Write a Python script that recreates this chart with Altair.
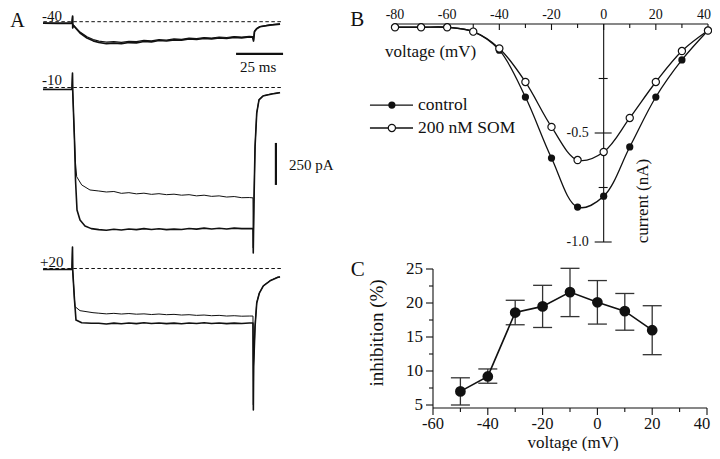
import altair as alt
import pandas as pd

SERIF = "Liberation Serif"
INK = "#111111"

# ---------------- Panel A: current traces (time in ms, current in pA) ----------------
plateau_t = [14, 18, 22, 26, 30, 34, 38, 42, 46, 50, 54, 58, 62, 66, 70, 74, 78, 82, 86, 90, 94]

m40_ctrl_head_t = [-15.7, -8.0, -0.3, 0.05, 0.12, 0.3, 2.0, 4.0, 7.7, 11.0]
m40_ctrl_head_i = [-9, -10, -9, 34, -37, -20, -42, -67, -97, -114]
m40_ctrl_plat_i = [-124, -130, -127, -131, -124, -126, -118, -120, -112, -115, -108,
                   -110, -103, -106, -99, -102, -96, -99, -93, -96, -91]
m40_ctrl_tail_t = [95.8, 96.3, 96.8, 98.0, 99.7, 105.0, 110.4]
m40_ctrl_tail_i = [-92, -115, -60, -42, -30, -20, -14]

m40_som_head_t = [-15.7, -8.0, -0.3, 0.05, 0.12, 0.3, 2.0, 4.0, 7.7, 11.0]
m40_som_head_i = [-8, -9, -8, 30, -34, -18, -38, -62, -90, -106]
m40_som_plat_i = [-116, -121, -119, -123, -117, -119, -111, -114, -107, -110, -102,
                  -105, -98, -101, -94, -97, -91, -94, -88, -92, -87]
m40_som_tail_t = [95.8, 96.3, 96.8, 98.0, 99.7, 105.0, 110.4]
m40_som_tail_i = [-88, -108, -56, -40, -29, -19, -13]

m10_ctrl_head_t = [-15.7, -8.0, -0.3, 0.0, 0.1, 1.06, 1.6, 2.4, 4.0, 6.65, 10.0]
m10_ctrl_head_i = [-11, -12, -11, 86, -15, -312, -551, -729, -789, -824, -840]
m10_ctrl_plat_i = [-846, -850, -844, -848, -842, -846, -840, -845, -841, -846, -843,
                   -845, -839, -843, -837, -842, -838, -842, -837, -840, -839]
m10_ctrl_tail_t = [96.0, 96.15, 96.5, 97.1, 98.0, 99.2, 101.3, 106.1, 110.4]
m10_ctrl_tail_i = [-840, -985, -700, -354, -152, -74, -51, -39, -31]

m10_som_head_t = [-15.7, -8.0, -0.3, 0.0, 0.1, 1.06, 1.6, 2.23, 4.9, 9.3]
m10_som_head_i = [-11, -12, -11, 86, -15, -312, -449, -531, -580, -610]
m10_som_plat_i = [-616, -622, -619, -630, -626, -633, -629, -636, -632, -638, -635,
                  -641, -638, -645, -641, -648, -645, -652, -649, -656, -655]
m10_som_tail_t = [96.0, 96.15, 96.5, 97.1, 98.0, 99.2, 101.3, 106.1, 110.4]
m10_som_tail_i = [-657, -955, -690, -350, -150, -73, -49, -37, -29]

p20_ctrl_head_t = [-15.7, -8.0, -0.3, 0.0, 0.1, 1.06, 1.86, 4.9, 10.0]
p20_ctrl_head_i = [-5, -6, -5, 128, -9, -187, -307, -323, -326]
p20_ctrl_plat_i = [-326, -330, -325, -329, -324, -328, -323, -327, -324, -328, -325,
                   -329, -324, -327, -323, -327, -324, -328, -325, -327, -324]
p20_ctrl_tail_t = [96.0, 96.2, 96.35, 97.1, 98.0, 99.4, 101.5, 105.1, 109.3, 110.4]
p20_ctrl_tail_i = [-324, -842, -584, -346, -205, -146, -104, -73, -52, -51]

p20_som_head_t = [-15.7, -8.0, -0.3, 0.0, 0.1, 1.06, 1.33, 4.0, 10.9]
p20_som_head_i = [-5, -6, -5, 128, -9, -187, -227, -251, -263]
p20_som_plat_i = [-266, -270, -267, -271, -268, -272, -270, -274, -271, -275, -273,
                  -277, -275, -279, -277, -281, -279, -283, -281, -284, -283]
p20_som_tail_t = [96.0, 96.2, 96.35, 97.1, 98.0, 99.4, 101.5, 105.1, 109.3, 110.4]
p20_som_tail_i = [-283, -812, -570, -340, -203, -145, -103, -72, -51, -50]

# ---------------- Panel B: I-V relation ----------------
iv_voltage = [-80, -70, -60, -50, -40, -30, -20, -10, 0, 10, 20, 30, 40]
iv_control = [-0.015, -0.015, -0.015, -0.035, -0.12, -0.335, -0.615, -0.84, -0.79,
              -0.564, -0.335, -0.165, -0.03]
iv_som = [-0.015, -0.015, -0.015, -0.035, -0.112, -0.266, -0.472, -0.624, -0.587,
          -0.431, -0.266, -0.124, -0.03]
b_major = [-80, -60, -40, -20, 0, 20, 40]
b_minor = [-70, -50, -30, -10, 10, 30]
b_ymajor = [-0.5, -1.0]
b_yminor = [-0.25, -0.75]
b_ylabels = ["-0.5", "-1.0"]

# ---------------- Panel C: inhibition ----------------
inh_voltage = [-50, -40, -30, -20, -10, 0, 10, 20]
inh_mean = [7.0, 9.2, 18.6, 19.5, 21.6, 20.1, 18.8, 16.0]
inh_upper = [9.0, 10.3, 20.4, 22.6, 25.1, 23.3, 21.4, 19.6]
inh_lower = [5.0, 8.2, 16.8, 16.4, 18.0, 16.9, 16.0, 12.4]
c_xmajor = [-60, -40, -20, 0, 20, 40]
c_xminor = [-50, -30, -10, 10, 30]
c_ymajor = [5, 10, 15, 20, 25]
c_yminor = [7.5, 12.5, 17.5, 22.5]


# ---------------- helpers ----------------
def S(domain, p0, p1):
    return alt.Scale(domain=domain, range=[p0 - 8, p1 - 8], nice=False, zero=False)


AX = S([-16, 112], 42.42, 283.06)


def a_y(b):
    return S([-1000, 150], b + 168.0, b - 25.2)


AY = {"-40": a_y(21.7), "-10": a_y(87.5), "+20": a_y(268.5)}
BX = S([-80, 40], 395, 708)
BY = S([-1.0, 0.0], 242, 24)
CX = S([-60, 40], 433, 707)
CY = S([5, 25], 405, 269)

ONE = pd.DataFrame({"k": [0]})


def xd(v, s):
    return alt.XDatum(v, scale=s, axis=None, type="quantitative")


def yd(v, s):
    return alt.YDatum(v, scale=s, axis=None, type="quantitative")


def text(s, x, y, xs, ys, size, align="center", angle=0, dx=0, dy=0):
    return alt.Chart(ONE).mark_text(
        text=s, font=SERIF, fontSize=size, align=align, baseline="middle",
        angle=angle, dx=dx, dy=dy, color=INK
    ).encode(x=xd(x, xs), y=yd(y, ys))


def seg(x, y, xs, ys, x2=None, y2=None, **kw):
    enc = {"x": xd(x, xs), "y": yd(y, ys)}
    if x2 is not None:
        enc["x2"] = alt.X2Datum(x2)
    if y2 is not None:
        enc["y2"] = alt.Y2Datum(y2)
    kw.setdefault("color", INK)
    return alt.Chart(ONE).mark_rule(**kw).encode(**enc)


def xticks(values, xs, ys, yv, length, **kw):
    df = pd.DataFrame({"v": values})
    return alt.Chart(df).mark_rule(color=INK, y2Offset=length, **kw).encode(
        x=alt.X("v:Q", scale=xs, axis=None), y=yd(yv, ys), y2=alt.Y2Datum(yv))


def yticks(values, xs, ys, xv, off0, off1, **kw):
    df = pd.DataFrame({"v": values})
    return alt.Chart(df).mark_rule(color=INK, xOffset=off0, x2Offset=off1, **kw).encode(
        y=alt.Y("v:Q", scale=ys, axis=None), x=xd(xv, xs), x2=alt.X2Datum(xv))


layers = []

# ---------------- Panel A ----------------
traces = [
    ("-40", m40_ctrl_head_t, m40_ctrl_head_i, m40_ctrl_plat_i, m40_ctrl_tail_t, m40_ctrl_tail_i, 1.7),
    ("-40", m40_som_head_t, m40_som_head_i, m40_som_plat_i, m40_som_tail_t, m40_som_tail_i, 1.2),
    ("-10", m10_ctrl_head_t, m10_ctrl_head_i, m10_ctrl_plat_i, m10_ctrl_tail_t, m10_ctrl_tail_i, 1.6),
    ("-10", m10_som_head_t, m10_som_head_i, m10_som_plat_i, m10_som_tail_t, m10_som_tail_i, 1.0),
    ("+20", p20_ctrl_head_t, p20_ctrl_head_i, p20_ctrl_plat_i, p20_ctrl_tail_t, p20_ctrl_tail_i, 1.6),
    ("+20", p20_som_head_t, p20_som_head_i, p20_som_plat_i, p20_som_tail_t, p20_som_tail_i, 1.0),
]
for step in ["-40", "-10", "+20"]:
    layers.append(seg(-15.5, 0, AX, AY[step], x2=111.5, strokeDash=[3.5, 2.5], strokeWidth=1.0))
for step, ht, hi, pi, tt, ti, w in traces:
    df = pd.DataFrame({"t": ht + plateau_t + tt, "i": hi + pi + ti})
    df["n"] = range(len(df))
    layers.append(alt.Chart(df).mark_line(color=INK, strokeWidth=w, strokeJoin="round").encode(
        x=alt.X("t:Q", scale=AX, axis=None),
        y=alt.Y("i:Q", scale=AY[step], axis=None),
        order="n:Q"))

layers.append(text("-40", -16.2, 34, AX, AY["-40"], 15, align="left"))
layers.append(text("-10", -16.2, 45, AX, AY["-10"], 15, align="left"))
layers.append(text("+20", -17.3, 39, AX, AY["+20"], 15, align="left"))
layers.append(text("A", -29.3, 4, AX, AY["-40"], 20))
# scale bars
layers.append(seg(87, -192, AX, AY["-40"], x2=112, strokeWidth=2.2))
layers.append(text("25 ms", 98.8, -270, AX, AY["-40"], 15))
layers.append(seg(108.2, -330, AX, AY["-10"], y2=-580, strokeWidth=2.2))
layers.append(text("250 pA", 115.2, -461, AX, AY["-10"], 15, align="left"))

# ---------------- Panel B ----------------
bdf = pd.DataFrame({"v": iv_voltage, "ctrl": iv_control, "som": iv_som})
layers.append(seg(-80, 0, BX, BY, x2=40, strokeWidth=1.1))
layers.append(seg(0, 0, BX, BY, y2=-1.0, strokeWidth=1.1))
layers.append(xticks(b_major, BX, BY, 0, 6, strokeWidth=1.1))
layers.append(xticks(b_minor, BX, BY, 0, 4, strokeWidth=1.1))
layers.append(yticks(b_ymajor, BX, BY, 0, -9, 8, strokeWidth=1.1))
layers.append(yticks(b_yminor, BX, BY, 0, -5, 4, strokeWidth=1.1))
layers.append(alt.Chart(pd.DataFrame({"v": b_major[:-1], "lab": [str(v) for v in b_major[:-1]]}))
              .mark_text(font=SERIF, fontSize=14, dy=-9, color=INK, baseline="middle")
              .encode(x=alt.X("v:Q", scale=BX, axis=None), y=yd(0, BY), text="lab:N"))
layers.append(text(str(b_major[-1]), b_major[-1], 0, BX, BY, 14, dx=-4, dy=-9))
layers.append(alt.Chart(pd.DataFrame({"v": b_ymajor, "lab": b_ylabels}))
              .mark_text(font=SERIF, fontSize=14, dx=-15, align="right", color=INK, baseline="middle")
              .encode(y=alt.Y("v:Q", scale=BY, axis=None), x=xd(0, BX), text="lab:N"))
for col in ["ctrl", "som"]:
    layers.append(alt.Chart(bdf).mark_line(color=INK, strokeWidth=1.3, interpolate="catmull-rom").encode(
        x=alt.X("v:Q", scale=BX, axis=None), y=alt.Y(col + ":Q", scale=BY, axis=None)))
layers.append(alt.Chart(bdf).mark_point(shape="circle", filled=True, color=INK, size=52, opacity=1).encode(
    x=alt.X("v:Q", scale=BX, axis=None), y=alt.Y("ctrl:Q", scale=BY, axis=None)))
layers.append(alt.Chart(bdf).mark_point(shape="circle", filled=True, fill="white", stroke=INK,
                                        strokeWidth=1.2, size=52, opacity=1).encode(
    x=alt.X("v:Q", scale=BX, axis=None), y=alt.Y("som:Q", scale=BY, axis=None)))
# legend
layers.append(seg(-89.6, -0.372, BX, BY, x2=-73.1, strokeWidth=1.3))
layers.append(seg(-89.6, -0.477, BX, BY, x2=-73.1, strokeWidth=1.3))
layers.append(alt.Chart(ONE).mark_point(shape="circle", filled=True, color=INK, size=52, opacity=1).encode(
    x=xd(-81.2, BX), y=yd(-0.372, BY)))
layers.append(alt.Chart(ONE).mark_point(shape="circle", filled=True, fill="white", stroke=INK,
                                        strokeWidth=1.2, size=52, opacity=1).encode(
    x=xd(-81.2, BX), y=yd(-0.477, BY)))
layers.append(text("control", -71.2, -0.372, BX, BY, 17.5, align="left"))
layers.append(text("200 nM SOM", -71.2, -0.477, BX, BY, 17.5, align="left"))
layers.append(text("voltage (mV)", -83.8, -0.128, BX, BY, 17, align="left"))
layers.append(text("current (nA)", 15.1, -0.812, BX, BY, 17, angle=270))
layers.append(text("B", -94.5, 0.018, BX, BY, 21))

# ---------------- Panel C ----------------
cdf = pd.DataFrame({"v": inh_voltage, "m": inh_mean, "hi": inh_upper, "lo": inh_lower})
layers.append(seg(-60, 4.55, CX, CY, x2=40, strokeWidth=1.1))
layers.append(seg(-60, 4.55, CX, CY, y2=25, strokeWidth=1.1))
layers.append(xticks(c_xmajor, CX, CY, 4.55, 7, strokeWidth=1.1))
layers.append(xticks(c_xminor, CX, CY, 4.55, 4, strokeWidth=1.1))
layers.append(yticks(c_ymajor, CX, CY, -60, -7, 0, strokeWidth=1.1))
layers.append(yticks(c_yminor, CX, CY, -60, -4, 0, strokeWidth=1.1))
layers.append(alt.Chart(pd.DataFrame({"v": c_xmajor[:-1], "lab": [str(v) for v in c_xmajor[:-1]]}))
              .mark_text(font=SERIF, fontSize=16.5, dy=15.5, color=INK, baseline="middle")
              .encode(x=alt.X("v:Q", scale=CX, axis=None), y=yd(4.55, CY), text="lab:N"))
layers.append(text(str(c_xmajor[-1]), c_xmajor[-1], 4.55, CX, CY, 16.5, dx=-5, dy=15.5))
layers.append(alt.Chart(pd.DataFrame({"v": c_ymajor, "lab": [str(v) for v in c_ymajor]}))
              .mark_text(font=SERIF, fontSize=17, dx=-10, align="right", color=INK, baseline="middle")
              .encode(y=alt.Y("v:Q", scale=CY, axis=None), x=xd(-60, CX), text="lab:N"))
layers.append(alt.Chart(cdf).mark_rule(color="#333333", strokeWidth=1.3).encode(
    x=alt.X("v:Q", scale=CX, axis=None), y=alt.Y("lo:Q", scale=CY, axis=None), y2="hi:Q"))
for col in ["lo", "hi"]:
    layers.append(alt.Chart(cdf).mark_rule(color="#333333", strokeWidth=1.3, xOffset=-9.5, x2Offset=9.5).encode(
        x=alt.X("v:Q", scale=CX, axis=None), x2="v:Q", y=alt.Y(col + ":Q", scale=CY, axis=None)))
layers.append(alt.Chart(cdf).mark_line(color=INK, strokeWidth=1.6).encode(
    x=alt.X("v:Q", scale=CX, axis=None), y=alt.Y("m:Q", scale=CY, axis=None)))
layers.append(alt.Chart(cdf).mark_point(shape="circle", filled=True, color=INK, size=115, opacity=1).encode(
    x=alt.X("v:Q", scale=CX, axis=None), y=alt.Y("m:Q", scale=CY, axis=None)))
layers.append(text("voltage (mV)", -8.9, -0.59, CX, CY, 17))
layers.append(text("inhibition (%)", -80.4, 15.6, CX, CY, 19, angle=270))
layers.append(text("C", -87.5, 24.9, CX, CY, 21))

chart = alt.layer(*layers).resolve_scale(x="independent", y="independent").properties(
    width=704, height=443, padding=0, background="white",
    autosize=alt.AutoSizeParams(type="none")
).configure_view(stroke=None)

chart.save("out.html", embed_options={"renderer": "svg", "actions": False})
